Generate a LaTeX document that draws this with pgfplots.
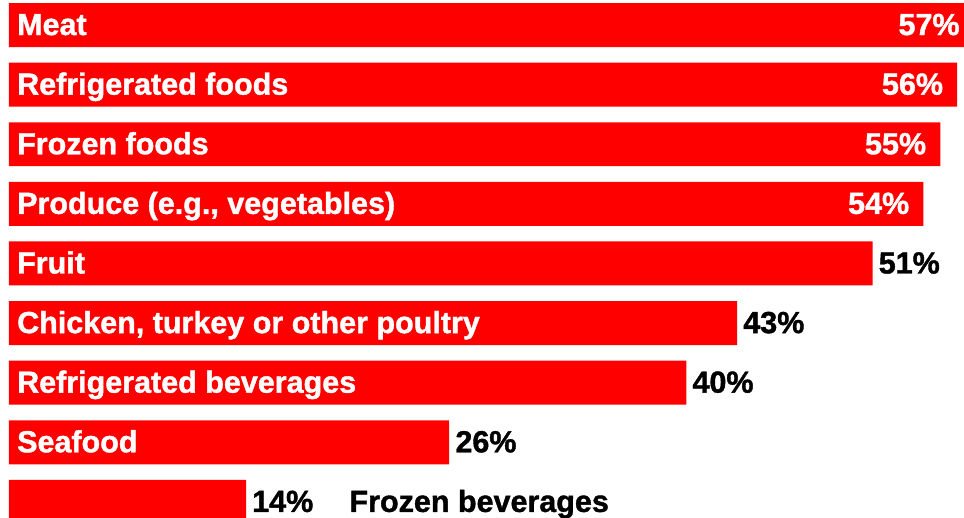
\documentclass[border=0pt]{standalone}
\usepackage{fontspec}
\setmainfont{Liberation Sans}[BoldFeatures={FakeBold=1.3}]
\usepackage{pgfplots}
\pgfplotsset{compat=1.18}
\definecolor{barred}{RGB}{255,0,0}
\begin{document}
\begin{tikzpicture}
\begin{axis}[
  width=964pt, height=518pt, scale only axis,
  hide axis,
  xmin=-0.53, xmax=56.4,
  ymin=-0.42, ymax=8.27,
  y dir=reverse,
  clip=true,
  font=\fontsize{30.5}{36}\selectfont\bfseries,
]
% bars
\addplot[xbar, bar shift=0pt, bar width=0.738, fill=barred, draw=none]
  coordinates {(57,0) (56,1) (55,2) (54,3) (51,4) (43,5) (40,6) (26,7) (14,8)};
% value of the first bar (its end lies beyond the picture's edge)
\addplot[draw=none, mark=none, nodes near coords, point meta=explicit symbolic,
  every node near coord/.style={anchor=base east, yshift=-10pt, text=white, inner sep=0pt}]
  coordinates {(56.15,0) [57\%]};
% values inside
\addplot[draw=none, mark=none, nodes near coords, point meta=explicit symbolic,
  every node near coord/.style={anchor=base east, xshift=-14pt, yshift=-10pt, text=white, inner sep=0pt}]
  coordinates {(56,1) [56\%] (55,2) [55\%] (54,3) [54\%]};
% values outside
\addplot[draw=none, mark=none, nodes near coords, point meta=explicit symbolic,
  every node near coord/.style={anchor=base west, xshift=6pt, yshift=-10pt, text=black, inner sep=0pt}]
  coordinates {(51,4) [51\%] (43,5) [43\%] (40,6) [40\%] (26,7) [26\%] (14,8) [14\%]};
% category names inside
\addplot[draw=none, mark=none, nodes near coords, point meta=explicit symbolic,
  every node near coord/.style={anchor=base west, xshift=8pt, yshift=-10pt, text=white, inner sep=0pt}]
  coordinates {(0,0) [Meat] (0,1) [Refrigerated foods] (0,2) [Frozen foods]
  (0,3) [{Produce (e.g., vegetables)}] (0,4) [Fruit]
  (0,5) [{Chicken, turkey or other poultry}] (0,6) [Refrigerated beverages] (0,7) [Seafood]};
% last category outside
\addplot[draw=none, mark=none, nodes near coords, point meta=explicit symbolic,
  every node near coord/.style={anchor=base west, yshift=-10pt, text=black, inner sep=0pt}]
  coordinates {(20.1,8) [Frozen beverages]};
\end{axis}
\pgfresetboundingbox
\useasboundingbox (current axis.south west) rectangle (current axis.north east);
\end{tikzpicture}
\end{document}
